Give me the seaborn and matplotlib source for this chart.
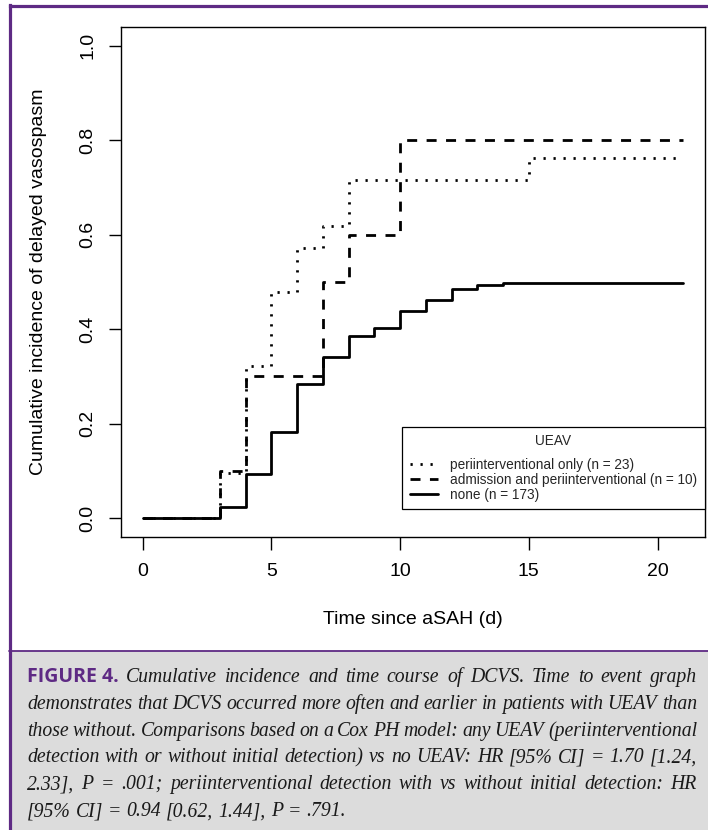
import numpy as np
import pandas as pd
import matplotlib
matplotlib.use("Agg")
import matplotlib.pyplot as plt
from matplotlib.lines import Line2D
from matplotlib.patches import Rectangle
import seaborn as sns

# ---------------- data ----------------
groups = ["periinterventional only (n = 23)",
          "admission and periinterventional (n = 10)",
          "none (n = 173)"]

peri_time = [0, 3, 4, 5, 6, 7, 8, 15, 21]
peri_ci = [0.0, 0.095, 0.323, 0.478, 0.573, 0.618, 0.715, 0.763, 0.763]

adm_time = [0, 3, 4, 7, 8, 10, 21]
adm_ci = [0.0, 0.10, 0.30, 0.50, 0.60, 0.80, 0.80]

none_time = [0, 3, 4, 5, 6, 7, 8, 9, 10, 11, 12, 13, 14, 21]
none_ci = [0.0, 0.023, 0.094, 0.183, 0.285, 0.342, 0.385, 0.403, 0.439,
           0.462, 0.486, 0.493, 0.498, 0.498]

x_ticks = [0, 5, 10, 15, 20]
y_ticks = [0.0, 0.2, 0.4, 0.6, 0.8, 1.0]
y_tick_labels = ["0.0", "0.2", "0.4", "0.6", "0.8", "1.0"]

x_label = "Time since aSAH (d)"
y_label = "Cumulative incidence of delayed vasospasm"
legend_title = "UEAV"

caption_head = "FIGURE 4."
caption_lines = [
    "Cumulative incidence and time course of DCVS. Time to event graph",
    "demonstrates that DCVS occurred more often and earlier in patients with UEAV than",
    "those without. Comparisons based on a Cox PH model: any UEAV (periinterventional",
    "detection with or without initial detection) vs no UEAV: HR [95% CI] = 1.70 [1.24,",
    "2.33], P = .001; periinterventional detection with vs without initial detection: HR",
    "[95% CI] = 0.94 [0.62, 1.44], P = .791.",
]

# ---------------- build table ----------------
df = pd.concat([
    pd.DataFrame({"time": peri_time, "ci": peri_ci, "group": groups[0]}),
    pd.DataFrame({"time": adm_time, "ci": adm_ci, "group": groups[1]}),
    pd.DataFrame({"time": none_time, "ci": none_ci, "group": groups[2]}),
], ignore_index=True)

# ---------------- style ----------------
sns.set_style("ticks")
plt.rcParams["font.family"] = ["Liberation Sans", "DejaVu Sans"]
plt.rcParams["axes.linewidth"] = 1.0

W, H = 708, 830
fig = plt.figure(figsize=(W / 100, H / 100), dpi=100)
fig.patch.set_facecolor("white")

PURPLE = "#5e2a84"

def fx(px):
    return px / W

def fy(py):
    return 1 - py / H

# caption background
fig.patches.append(Rectangle((fx(10), 0), 1 - fx(10), fy(651), transform=fig.transFigure,
                             facecolor="#dcdcdc", edgecolor="none", zorder=0))
fig.lines.append(Line2D([fx(9), 1], [fy(651), fy(651)], transform=fig.transFigure,
                        color=PURPLE, lw=1.3, zorder=1))
# purple frame (left and top)
fig.lines.append(Line2D([fx(9.5), fx(9.5)], [0, fy(5.5)], transform=fig.transFigure,
                        color=PURPLE, lw=2.3, zorder=2, solid_capstyle="projecting"))
fig.lines.append(Line2D([fx(9.5), 1], [fy(6.5), fy(6.5)], transform=fig.transFigure,
                        color=PURPLE, lw=2.3, zorder=2, solid_capstyle="projecting"))

ax = fig.add_axes([fx(121), 1 - 537 / H, 584 / W, 510 / H])
ax.set_facecolor("white")

dash_map = {groups[0]: (0.8, 2.8), groups[1]: (3.6, 3.4), groups[2]: ""}
sns.lineplot(data=df, x="time", y="ci", style="group", style_order=groups,
             dashes=dash_map, color="black", lw=2.0, drawstyle="steps-post",
             estimator=None, errorbar=None, legend=False, ax=ax)

ax.set_xlim(-0.84, 21.84)
ax.set_ylim(-0.04, 1.04)
ax.set_xticks(x_ticks)
ax.set_xticklabels([str(v) for v in x_ticks], fontsize=14)
ax.set_yticks(y_ticks)
ax.set_yticklabels(y_tick_labels, fontsize=14, rotation=90, va="center")
ax.tick_params(axis="both", direction="out", length=9, width=1.0, color="black",
               labelcolor="black")
ax.tick_params(axis="x", pad=9.5)
ax.tick_params(axis="y", pad=8.5)
for s in ax.spines.values():
    s.set_visible(True)
    s.set_color("black")
    s.set_linewidth(1.0)

ax.set_xlabel(x_label, fontsize=14, color="black")
ax.set_ylabel(y_label, fontsize=14, color="black")
ax.xaxis.set_label_coords(0.5, (537 - 620) / 510)
ax.xaxis.label.set_va("center")
ax.yaxis.set_label_coords((39 - 121) / 584, 0.5)
ax.yaxis.label.set_va("center")

handles = list(ax.get_lines())[:3]
leg = ax.legend(handles=handles, labels=groups, title=legend_title,
                loc="lower right", bbox_to_anchor=(1.0, (537 - 509) / 510),
                borderaxespad=0, fontsize=9.8, title_fontsize=9.8,
                frameon=True, fancybox=False, framealpha=1, edgecolor="black",
                handlelength=2.1, handletextpad=0.9, labelspacing=0.05,
                borderpad=0.55)
leg.get_frame().set_linewidth(0.9)
leg._legend_box.sep = 7

# ---------------- caption (justified) ----------------
renderer = fig.canvas.get_renderer()
left_px, right_px = 27, 697
base0, step = 682, 26.8
serif = dict(family=["Liberation Serif", "DejaVu Serif"], style="italic",
             fontsize=14.2, color="#1a1a1a")

for i, line in enumerate(caption_lines):
    y = fy(base0 + step * i)
    tokens = []
    if i == 0:
        tokens.append(fig.text(0, y, caption_head, family=["Open Sans", "DejaVu Sans"],
                               fontweight="bold", fontsize=14, color=PURPLE,
                               va="baseline"))
    for w in line.split(" "):
        tokens.append(fig.text(0, y, w, va="baseline", **serif))
    widths = [t.get_window_extent(renderer).width for t in tokens]
    total = sum(widths)
    last = i == len(caption_lines) - 1
    if last or len(tokens) < 2:
        gap = 5.0
    else:
        gap = (right_px - left_px - total) / (len(tokens) - 1)
    x = left_px
    for t, wd in zip(tokens, widths):
        t.set_x(fx(x))
        x += wd + gap

fig.savefig("out.png", dpi=100, facecolor="white")
